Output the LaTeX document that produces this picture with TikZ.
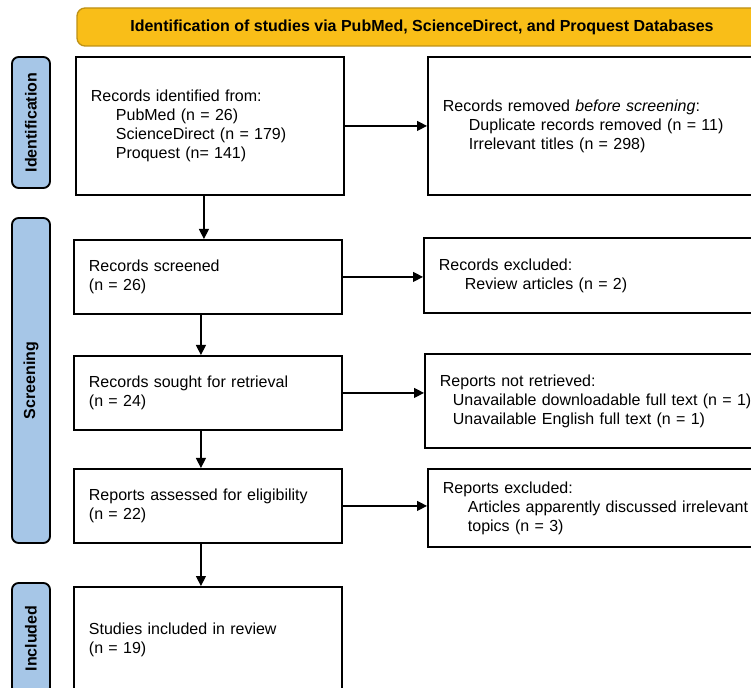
\documentclass[tikz,border=0pt]{standalone}
\usepackage{fontspec}
\setmainfont{Liberation Sans}
\usepackage{tikz}
\usetikzlibrary{arrows.meta}
\definecolor{headgold}{RGB}{249,190,24}
\definecolor{headedge}{RGB}{190,145,20}
\definecolor{phaseblue}{RGB}{166,198,231}
\tikzset{
  box/.style={draw,line width=1.4pt,anchor=north west,align=left,
    inner xsep=11.25pt,font=\fontsize{12}{14.2}\selectfont},
  phase/.style={draw,line width=1.4pt,fill=phaseblue,rounded corners=5pt,
    rotate=90,minimum height=28.5pt,font=\bfseries\fontsize{12}{14}\selectfont},
  arrow/.style={line width=0.9pt,-{Triangle[length=7.5pt,width=7.5pt]}}
}

\begin{document}
\begin{tikzpicture}[x=0.75pt,y=-0.75pt]
\useasboundingbox (0,0) rectangle (751,688);
\clip (0,0) rectangle (751,688);
\node[draw=headedge,fill=headgold,line width=1pt,rounded corners=6pt,
  minimum width=517.5pt,minimum height=28.5pt,
  font=\bfseries\fontsize{12}{14}\selectfont] (head) at (422,27)
  {Identification of studies via PubMed, ScienceDirect, and Proquest Databases};
% phases
\node[phase,minimum width=98.25pt] (pid) at (31,122.5) {Identification};
\node[phase,minimum width=243.75pt] (pscr) at (31,380.5) {Screening};
\node[phase,minimum width=83.25pt] (pinc) at (31,638.5) {Included};
% left column
\node[box,text width=178.5pt,minimum height=103.5pt] (ident) at (75,56)
  {Records identified from:\\
   \hspace*{18.75pt}PubMed (n = 26)\\
   \hspace*{18.75pt}ScienceDirect (n = 179)\\
   \hspace*{18.75pt}Proquest (n= 141)};
\node[box,text width=178.5pt,minimum height=55.5pt] (screened) at (73,239)
  {Records screened\\(n = 26)};
\node[box,text width=178.5pt,minimum height=55.5pt] (sought) at (73,355)
  {Records sought for retrieval\\(n = 24)};
\node[box,text width=178.5pt,minimum height=55.5pt] (assessed) at (73,468)
  {Reports assessed for eligibility\\(n = 22)};
\node[box,text width=178.5pt,minimum height=79.5pt] (included) at (73,586)
  {Studies included in review\\(n = 19)};
% right column
\node[box,text width=247.5pt,minimum height=103.5pt] (removed) at (427,56)
  {Records removed \textit{before screening}:\\
   \hspace*{19.5pt}Duplicate records removed (n = 11)\\
   \hspace*{19.5pt}Irrelevant titles (n = 298)};
\node[box,text width=247.5pt,minimum height=56.25pt] (excluded) at (423,237)
  {Records excluded:\\
   \hspace*{19.5pt}Review articles (n = 2)};
\node[box,text width=247.5pt,minimum height=70.5pt] (notretr) at (424,353)
  {Reports not retrieved:\\
   \hspace*{9.75pt}Unavailable downloadable full text (n = 1)\\
   \hspace*{9.75pt}Unavailable English full text (n = 1)};
\node[box,text width=247.5pt,minimum height=58.5pt] (repexcl) at (427,468)
  {Reports excluded:\\
   \hspace*{18.75pt}Articles apparently discussed irrelevant\\
   \hspace*{18.75pt}topics (n = 3)};
% arrows
\draw[arrow] (ident.east) -- (ident.east -| removed.west);
\draw[arrow] (screened.east) -- (screened.east -| excluded.west);
\draw[arrow] (sought.east) -- (sought.east -| notretr.west);
\draw[arrow] (assessed.east) -- (assessed.east -| repexcl.west);
\draw[arrow] ([xshift=-4.5pt]ident.south) -- ([xshift=-4.5pt]ident.south |- screened.north);
\draw[arrow] ([xshift=-5.25pt]screened.south) -- ([xshift=-5.25pt]screened.south |- sought.north);
\draw[arrow] ([xshift=-5.25pt]sought.south) -- ([xshift=-5.25pt]sought.south |- assessed.north);
\draw[arrow] ([xshift=-5.25pt]assessed.south) -- ([xshift=-5.25pt]assessed.south |- included.north);
\end{tikzpicture}
\end{document}
